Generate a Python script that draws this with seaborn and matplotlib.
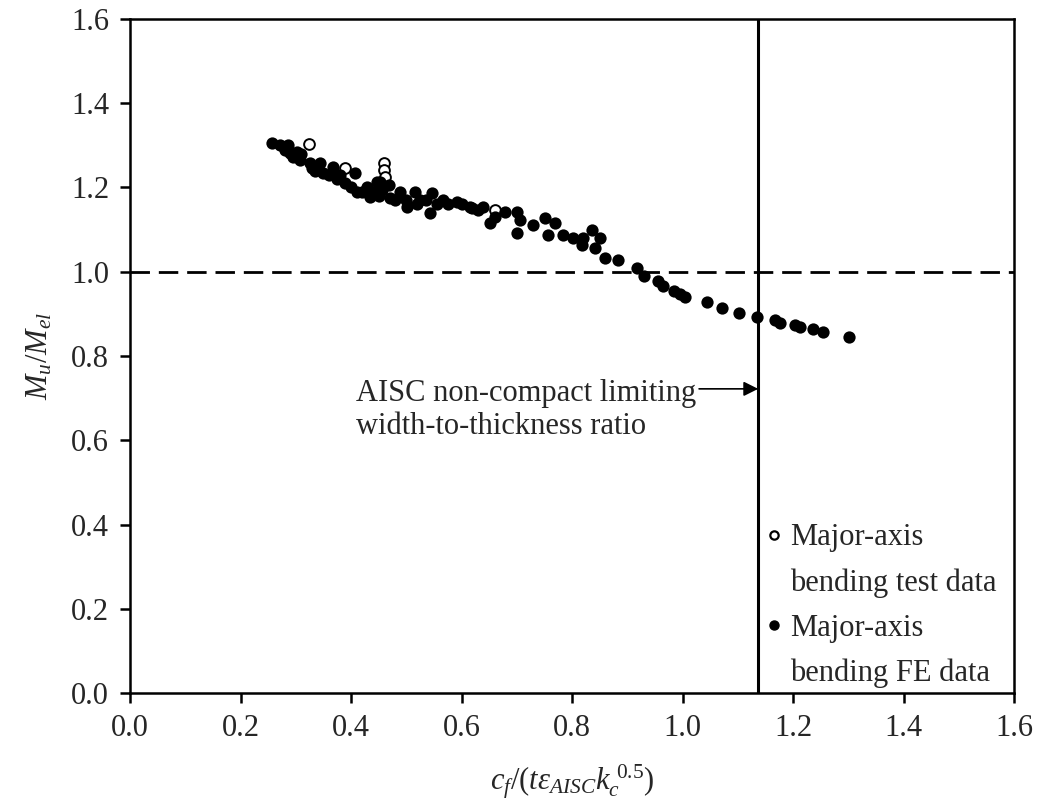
import matplotlib
matplotlib.use("Agg")
import matplotlib.pyplot as plt
import seaborn as sns
import pandas as pd
from matplotlib.lines import Line2D

# ---- data ----
test_x = [0.324, 0.389, 0.460, 0.460, 0.461, 0.661]
test_y = [1.304, 1.247, 1.259, 1.242, 1.226, 1.147]

fe_x = [0.257, 0.271, 0.286, 0.290, 0.302, 0.308, 0.326, 0.329, 0.344, 0.350,
        0.367, 0.374, 0.389, 0.407, 0.411, 0.429, 0.434, 0.447, 0.456, 0.471,
        0.489, 0.501, 0.516, 0.525, 0.543, 0.546, 0.567, 0.591, 0.615, 0.630,
        0.619, 0.639, 0.652, 0.679, 0.700, 0.700, 0.706, 0.729, 0.751, 0.757,
        0.769, 0.784, 0.802, 0.820, 0.818, 0.836, 0.851, 0.842, 0.860, 0.883,
        0.918, 0.930, 0.955, 0.965, 0.985, 0.995, 1.005, 1.044, 1.071, 1.102,
        1.135, 1.167, 1.176, 1.204, 1.213, 1.236, 1.254, 1.301,
        0.280, 0.295, 0.310, 0.335, 0.360, 0.380, 0.400, 0.420, 0.440, 0.450,
        0.452, 0.468, 0.480, 0.500, 0.520, 0.535, 0.555, 0.575, 0.600, 0.660]
fe_y = [1.306, 1.302, 1.302, 1.283, 1.285, 1.266, 1.259, 1.247, 1.259, 1.235,
        1.249, 1.219, 1.211, 1.235, 1.190, 1.202, 1.178, 1.214, 1.195, 1.176,
        1.190, 1.154, 1.190, 1.171, 1.140, 1.188, 1.171, 1.166, 1.154, 1.147,
        1.152, 1.154, 1.116, 1.143, 1.143, 1.093, 1.124, 1.112, 1.128, 1.088,
        1.116, 1.088, 1.081, 1.081, 1.064, 1.100, 1.081, 1.057, 1.033, 1.028,
        1.010, 0.990, 0.978, 0.965, 0.955, 0.948, 0.940, 0.929, 0.914, 0.903,
        0.893, 0.886, 0.879, 0.874, 0.869, 0.865, 0.857, 0.845,
        1.290, 1.272, 1.280, 1.240, 1.230, 1.230, 1.200, 1.190, 1.190, 1.180,
        1.212, 1.205, 1.170, 1.170, 1.160, 1.170, 1.160, 1.160, 1.160, 1.130]

limit_x = 1.137
ref_y = 1.0
x_ticks = [0.0, 0.2, 0.4, 0.6, 0.8, 1.0, 1.2, 1.4, 1.6]
y_ticks = [0.0, 0.2, 0.4, 0.6, 0.8, 1.0, 1.2, 1.4, 1.6]
test_label = ["Major-axis", "bending test data"]
fe_label = ["Major-axis", "bending FE data"]
annot_text = "AISC non-compact limiting\nwidth-to-thickness ratio"

# ---- style ----
sns.set_style("ticks")
plt.rcParams["font.family"] = ["Liberation Serif", "DejaVu Serif"]
plt.rcParams["mathtext.fontset"] = "custom"
plt.rcParams["mathtext.rm"] = "Liberation Serif"
plt.rcParams["mathtext.it"] = "Liberation Serif:italic"
plt.rcParams["mathtext.bf"] = "Liberation Serif:bold"
FS = 22

fig = plt.figure(figsize=(10.41, 8.10), dpi=100)
ax = fig.add_axes([130 / 1041, 1 - 693 / 810, 884 / 1041, 674 / 810])

df_test = pd.DataFrame({"x": test_x, "y": test_y})
df_fe = pd.DataFrame({"x": fe_x, "y": fe_y})

sns.scatterplot(data=df_test, x="x", y="y", ax=ax, marker="o", s=60,
                facecolor="white", edgecolor="black", linewidth=1.4, zorder=3)
sns.scatterplot(data=df_fe, x="x", y="y", ax=ax, marker="o", s=78,
                color="black", edgecolor="black", linewidth=0, zorder=4)

ax.axvline(limit_x, color="black", lw=2.2, zorder=2)
ax.axhline(ref_y, color="black", lw=2.0, linestyle=(0, (7, 3.2)), zorder=2)

ax.set_xlim(0, 1.6)
ax.set_ylim(0, 1.6)
ax.set_xticks(x_ticks)
ax.set_yticks(y_ticks)
ax.set_xticklabels([f"{v:.1f}" for v in x_ticks], fontsize=FS)
ax.set_yticklabels([f"{v:.1f}" for v in y_ticks], fontsize=FS)
ax.tick_params(direction="out", length=7, width=1.8, color="black", pad=8)
for sp in ax.spines.values():
    sp.set_visible(True)
    sp.set_linewidth(1.8)
    sp.set_color("black")

ax.set_xlabel(r"$c_f/(t\varepsilon_{AISC}k_c^{\ 0.5})$", fontsize=FS, labelpad=14)
ax.set_ylabel(r"$M_u/M_{el}$", fontsize=FS, labelpad=12)

# annotation
ax.annotate("", xy=(limit_x, 0.722), xytext=(1.03, 0.722),
            arrowprops=dict(arrowstyle="-|>", color="black", lw=1.2,
                            mutation_scale=22, shrinkA=0, shrinkB=0))
ax.text(1.025, 0.672, annot_text, ha="right", va="center",
        multialignment="left", fontsize=FS, linespacing=1.15)

# legend (four rows: marker on first line of each label)
blank = Line2D([], [], linestyle="none", marker=None)
h_test = Line2D([], [], linestyle="none", marker="o", markersize=6,
                markerfacecolor="white", markeredgecolor="black", markeredgewidth=1.6)
h_fe = Line2D([], [], linestyle="none", marker="o", markersize=6.5,
              markerfacecolor="black", markeredgecolor="black")
leg = ax.legend([h_test, blank, h_fe, blank],
                [test_label[0], test_label[1], fe_label[0], fe_label[1]],
                loc="upper left", bbox_to_anchor=(0.7195, 0.2516),
                frameon=False, fontsize=FS, handlelength=0.5,
                handletextpad=0.3, labelspacing=0.52, borderpad=0,
                borderaxespad=0)

fig.savefig("out.png", dpi=100)
